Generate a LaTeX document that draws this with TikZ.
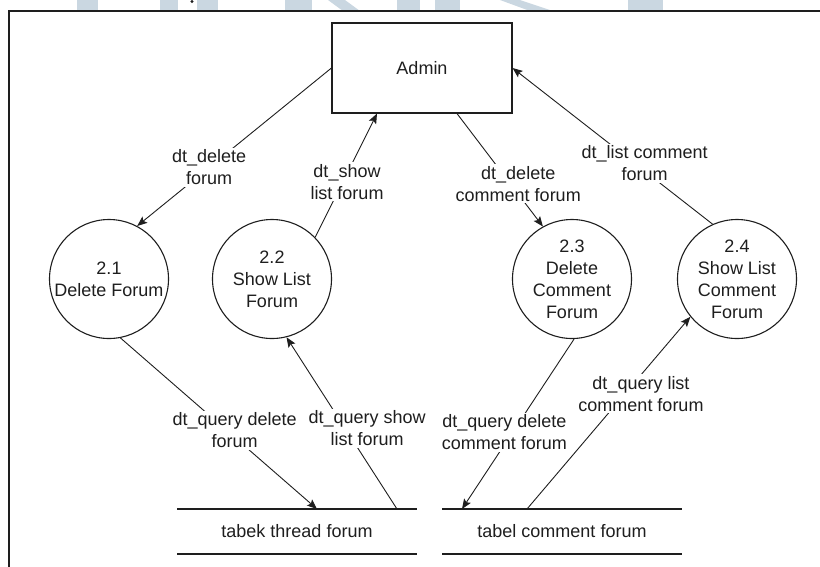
\documentclass[tikz,border=0pt]{standalone}
\usepackage{fontspec}
\setmainfont{Liberation Sans}
\usetikzlibrary{arrows.meta}
\definecolor{wmark}{RGB}{202,215,225}
\definecolor{ink}{RGB}{30,30,30}

\begin{document}
\begin{tikzpicture}[x=1pt,y=-1pt,
  font=\fontsize{18}{22}\selectfont,
  text=ink,
  proc/.style={circle,draw=ink,line width=1.1pt,minimum size=119pt,inner sep=0pt,align=center},
  ent/.style={rectangle,draw=ink,line width=1.1pt,minimum width=180pt,minimum height=90pt},
  flow/.style={draw=ink,line width=0.9pt,-{Stealth[length=10pt,width=8pt,inset=2pt]}},
  lbl/.style={fill=white,inner sep=2pt,align=center},
  storeline/.style={draw=ink,line width=1.1pt}
]
\useasboundingbox (0,0) rectangle (820,566);

% watermark letters peeking above the frame
\fill[wmark] (77,0) rectangle (98,11);
\fill[wmark] (160,0) rectangle (178,11);
\fill[wmark] (197,0) rectangle (218,11);
\fill[wmark] (285,0) rectangle (312,11);
\fill[wmark] (328,0) -- (345,0) -- (360,11) -- (343,11) -- cycle;
\fill[wmark] (397,0) rectangle (420,11);
\fill[wmark] (435,0) rectangle (460,11);
\fill[wmark] (500,0) -- (520,0) -- (553,11) -- (530,11) -- cycle;
\fill[wmark] (628,0) rectangle (663,11);
\fill[ink] (192,1.5) circle (1.6pt);

% outer frame
\draw[ink,line width=2.6pt] (9,580) -- (9,11) -- (830,11);

% external entity and processes
\node[ent] (admin) at (422,68) {Admin};
\node[proc] (c21) at (109,279) {2.1\\Delete Forum};
\node[proc] (c22) at (272,279) {2.2\\Show List\\Forum};
\node[proc] (c23) at (572,279) {2.3\\Delete\\Comment\\Forum};
\node[proc] (c24) at (737,279) {2.4\\Show List\\Comment\\Forum};

% data stores
\coordinate (s1a) at (177,509);
\coordinate (s1b) at (417,509);
\coordinate (s1c) at (177,554);
\coordinate (s1d) at (417,554);
\coordinate (s2a) at (442,509);
\coordinate (s2b) at (682,509);
\coordinate (s2c) at (442,554);
\coordinate (s2d) at (682,554);
\draw[storeline] (s1a) -- (s1b);
\draw[storeline] (s1c) -- (s1d);
\draw[storeline] (s2a) -- (s2b);
\draw[storeline] (s2c) -- (s2d);
\node (st1) at (297,531) {tabek thread forum};
\node (st2) at (562,531) {tabel comment forum};

\coordinate (s1in) at (317,509);
\coordinate (s1out) at (397,509);
\coordinate (s2in) at (462,509);
\coordinate (s2out) at (527,509);

% data flows
\draw[flow] (admin.west) -- node[lbl,pos=0.63]{dt\_delete\\forum} (c21.62);
\draw[flow] (c22.44) -- node[lbl,pos=0.45,xshift=4pt]{dt\_show\\list forum} ([xshift=-45pt]admin.south);
\draw[flow] ([xshift=35pt]admin.south) -- node[lbl,pos=0.62,xshift=8pt]{dt\_delete\\comment forum} (c23.119);
\draw[flow] (c24.114) -- node[lbl,pos=0.39,xshift=10pt]{dt\_list comment\\forum} (admin.east);
\draw[flow] (c21.-79) -- node[lbl,pos=0.54,xshift=8pt]{dt\_query delete\\forum} (s1in);
\draw[flow] (s1out) -- node[lbl,pos=0.47,xshift=22pt]{dt\_query show\\list forum} (c22.-76);
\draw[flow] (c23.-88) -- node[lbl,pos=0.55,xshift=-8pt]{dt\_query delete\\comment forum} (s2in);
\draw[flow] (s2out) -- node[lbl,pos=0.6,xshift=16pt]{dt\_query list\\comment forum} (c24.219);
\end{tikzpicture}
\end{document}
